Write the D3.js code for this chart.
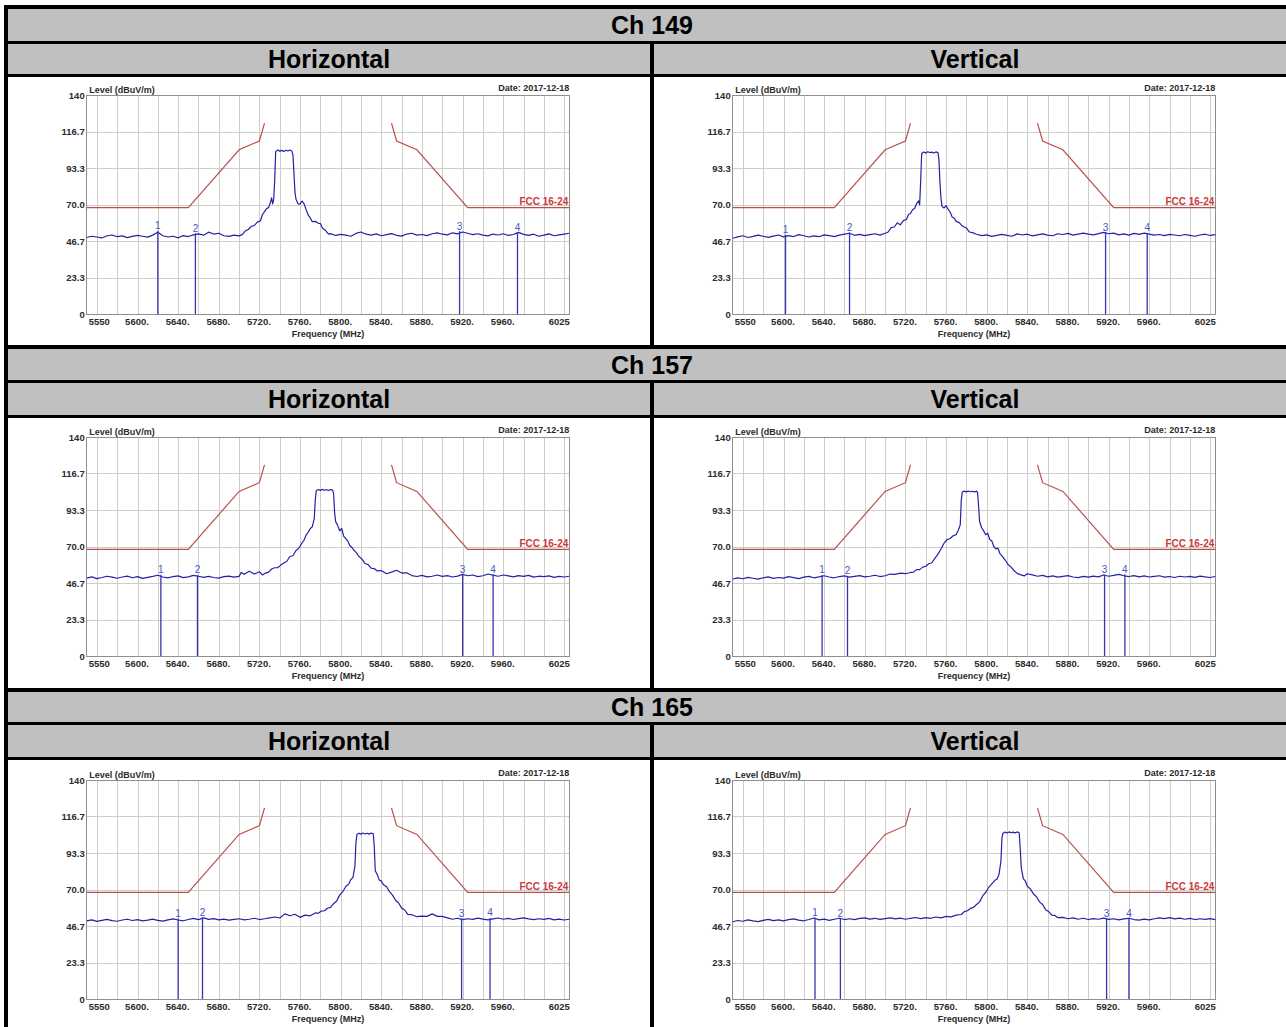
<!DOCTYPE html>
<html>
<head>
<meta charset="utf-8">
<script src="https://cdn.jsdelivr.net/npm/d3@7/dist/d3.min.js"></script>
<style>
    body { margin: 0; background: #fff; }
    svg { display: block; }
    text { font-family: "Liberation Sans", Arial, sans-serif; }
    .tick text { font-weight: bold; font-size: 9.5px; fill: #2b2b2b; }
</style>
</head>
<body>
<svg id="sheet" width="1286" height="1027"></svg>
<script>
// Table labels
const channels = ['Ch 149', 'Ch 157', 'Ch 165'];
const polarizations = ['Horizontal', 'Vertical'];
const dateLabel = 'Date: 2017-12-18';
const limitName = 'FCC 16-24';

// Axis ticks
const yTickValues = [0, 23.33, 46.67, 70, 93.33, 116.67, 140];
const yTickLabels = ['0', '23.3', '46.7', '70.0', '93.3', '116.7', '140'];
const xTickValues = [5550, 5600, 5640, 5680, 5720, 5760, 5800, 5840, 5880, 5920, 5960, 6025];
const xTickLabels = ['5550', '5600.', '5640.', '5680.', '5720.', '5760.', '5800.', '5840.', '5880.', '5920.', '5960.', '6025'];
const gridFreqs = [5560, 5580, 5600, 5620, 5640, 5660, 5680, 5700, 5720, 5740, 5760, 5780, 5800,
    5820, 5840, 5860, 5880, 5900, 5920, 5940, 5960, 5980, 6000, 6020];

// FCC 16-24 emission mask (dBuV/m)
const limitLowFreq = [5550, 5650, 5700, 5720, 5725];
const limitLowLevel = [68.2, 68.2, 105.2, 110.8, 122.2];
const limitHighFreq = [5850, 5855, 5875, 5925, 6025];
const limitHighLevel = [122.2, 110.8, 105.2, 68.2, 68.2];

// Measured traces [MHz, dBuV/m]
const trace149H = [[5550,49.1],[5555,49.9],[5560,49.4],[5565,48.8],[5570,50.2],[5575,50.7],[5580,49.6],[5585,50.1],[5590,49.0],[5595,49.8],
    [5600,50.5],[5605,49.9],[5610,49.3],[5615,50.6],[5620,52.4],[5625,50.2],[5630,49.4],[5635,49.9],[5640,48.9],[5645,50.3],
    [5650,49.7],[5655,50.8],[5660,51.4],[5665,50.6],[5670,52.5],[5675,51.3],[5680,51.8],[5685,50.2],[5690,49.8],[5695,50.6],
    [5700,50.1],[5703,50.9],[5706,53.2],[5709,54.2],[5712,56.2],[5715,56.8],[5718,58.9],[5721,59.8],[5723,63.8],[5725,65.6],
    [5727,67.6],[5729,68.2],[5731,71.8],[5732,74.5],[5733,70.6],[5734,73.2],[5735,85.0],[5736,104.0],[5738,105.0],[5740,104.3],
    [5742,104.8],[5744,104.1],[5746,104.9],[5748,104.4],[5750,105.0],[5752,104.2],[5753,102.0],[5754,90.0],[5755,78.0],[5756,73.5],
    [5758,70.6],[5760,70.4],[5762,72.4],[5764,70.6],[5766,66.8],[5768,63.4],[5770,61.6],[5772,59.2],[5775,59.4],[5778,58.2],
    [5780,58.0],[5782,55.2],[5785,53.6],[5788,51.2],[5790,51.6],[5795,50.4],[5800,51.1],[5805,50.6],[5810,49.9],[5815,51.7],
    [5820,52.6],[5825,51.2],[5830,50.6],[5835,51.4],[5840,50.2],[5845,50.9],[5850,51.6],[5855,50.5],[5860,50.0],[5865,51.3],
    [5870,51.8],[5875,50.6],[5880,51.0],[5885,50.3],[5890,51.5],[5895,52.0],[5900,51.2],[5905,50.8],[5910,52.1],[5915,51.4],
    [5920,52.6],[5925,51.8],[5930,50.9],[5935,51.5],[5940,50.6],[5945,50.1],[5950,51.3],[5955,50.7],[5960,51.5],[5965,50.4],
    [5970,51.0],[5975,52.4],[5980,51.1],[5985,50.5],[5990,51.2],[5995,49.9],[6000,50.6],[6005,51.4],[6010,50.2],[6015,50.8],
    [6020,51.3],[6025,51.8]];

const trace149V = [[5550,48.6],[5555,49.5],[5560,50.2],[5565,49.1],[5570,49.8],[5575,50.6],[5580,49.9],[5585,49.2],[5590,50.0],[5595,50.7],
    [5600,49.5],[5605,50.3],[5610,49.7],[5615,50.9],[5620,50.2],[5625,49.4],[5630,50.1],[5635,49.6],[5640,50.8],[5645,50.3],
    [5650,49.7],[5655,50.6],[5660,51.2],[5665,51.8],[5670,50.5],[5675,51.1],[5680,50.3],[5685,50.9],[5690,51.5],[5695,50.6],
    [5700,51.8],[5703,52.6],[5706,55.4],[5709,55.8],[5712,58.4],[5715,57.2],[5718,59.9],[5721,60.6],[5723,63.8],[5725,64.4],
    [5727,66.8],[5729,67.6],[5731,70.8],[5733,72.5],[5734,70.0],[5735,85.0],[5736,102.8],[5738,103.8],[5740,103.2],[5742,103.9],
    [5744,103.4],[5746,103.7],[5748,103.1],[5750,103.8],[5752,103.4],[5753,99.0],[5754,84.0],[5755,74.0],[5756,69.0],[5758,68.0],
    [5760,69.4],[5762,67.2],[5764,65.4],[5766,62.2],[5768,61.4],[5770,59.4],[5773,58.6],[5776,56.4],[5780,55.2],[5783,52.6],
    [5786,52.2],[5790,51.2],[5795,50.3],[5800,50.8],[5805,49.8],[5810,50.5],[5815,51.1],[5820,50.4],[5825,49.9],[5830,51.4],
    [5835,50.7],[5840,51.2],[5845,50.1],[5850,50.8],[5855,51.4],[5860,50.6],[5865,50.2],[5870,51.5],[5875,51.0],[5880,51.7],
    [5885,50.6],[5890,51.3],[5895,51.9],[5900,51.2],[5905,50.8],[5910,51.6],[5915,52.4],[5920,51.5],[5925,51.9],[5930,50.8],
    [5935,51.4],[5940,50.6],[5945,51.7],[5950,51.1],[5955,51.9],[5960,51.2],[5965,50.6],[5970,51.0],[5975,50.3],[5980,51.1],
    [5985,50.7],[5990,50.2],[5995,51.0],[6000,50.5],[6005,49.9],[6010,50.7],[6015,51.2],[6020,50.4],[6025,50.9]];

const trace157H = [[5550,49.8],[5555,50.6],[5560,49.5],[5565,50.2],[5570,51.0],[5575,50.4],[5580,49.7],[5585,50.5],[5590,51.1],[5595,50.0],
    [5600,50.7],[5605,49.6],[5610,50.3],[5615,50.9],[5620,51.6],[5625,50.5],[5630,49.9],[5635,50.8],[5640,51.2],[5645,50.1],
    [5650,50.6],[5655,51.5],[5660,51.0],[5665,50.3],[5670,50.9],[5675,50.2],[5680,49.8],[5685,50.7],[5690,51.1],[5695,50.4],
    [5700,50.9],[5702,53.4],[5705,52.2],[5710,54.2],[5715,52.4],[5720,53.9],[5723,51.8],[5726,53.0],[5729,53.6],[5732,55.6],
    [5735,56.4],[5738,56.4],[5741,58.1],[5744,59.4],[5747,60.6],[5750,63.6],[5753,64.1],[5756,67.4],[5759,69.1],[5762,72.4],
    [5764,74.1],[5766,77.4],[5768,79.1],[5770,81.4],[5772,82.6],[5774,88.0],[5775,100.0],[5776,105.8],[5778,106.4],[5780,105.9],
    [5782,106.5],[5784,106.0],[5786,106.3],[5788,105.8],[5790,106.4],[5792,106.0],[5793,104.0],[5794,92.0],[5795,86.0],[5797,83.5],
    [5799,80.0],[5801,81.5],[5803,76.5],[5805,75.0],[5807,73.4],[5809,70.6],[5811,69.4],[5813,67.6],[5815,66.4],[5818,63.6],
    [5821,61.9],[5824,59.1],[5827,58.4],[5830,56.1],[5833,55.9],[5836,54.4],[5840,54.6],[5845,52.6],[5850,53.6],[5855,54.8],
    [5860,53.0],[5865,53.2],[5870,51.4],[5875,50.8],[5880,51.5],[5885,50.6],[5890,51.0],[5895,51.8],[5900,50.9],[5905,51.4],
    [5910,50.5],[5915,51.1],[5920,52.2],[5925,51.3],[5930,51.8],[5935,50.7],[5940,51.3],[5945,52.4],[5950,51.6],[5955,51.0],
    [5960,51.8],[5965,51.2],[5970,50.6],[5975,51.4],[5980,50.9],[5985,51.5],[5990,50.4],[5995,51.0],[6000,50.7],[6005,51.2],
    [6010,50.3],[6015,50.9],[6020,50.5],[6025,51.0]];

const trace157V = [[5550,49.2],[5555,49.9],[5560,49.4],[5565,50.3],[5570,49.7],[5575,49.1],[5580,50.0],[5585,50.6],[5590,49.6],[5595,50.2],
    [5600,49.8],[5605,50.7],[5610,50.1],[5615,49.5],[5620,50.4],[5625,50.9],[5630,50.0],[5635,50.6],[5640,51.3],[5645,50.5],
    [5650,50.0],[5655,50.8],[5660,51.2],[5665,50.4],[5670,50.9],[5675,51.4],[5680,50.6],[5685,51.0],[5690,51.6],[5695,50.8],
    [5700,51.3],[5705,52.4],[5710,52.2],[5715,53.0],[5720,52.6],[5725,53.4],[5728,53.6],[5731,55.2],[5734,55.2],[5737,56.8],
    [5740,57.4],[5743,59.0],[5746,59.6],[5749,62.4],[5752,65.1],[5755,68.4],[5758,72.1],[5761,74.4],[5764,75.1],[5767,76.9],
    [5770,77.6],[5772,80.4],[5774,84.0],[5775,100.0],[5776,104.8],[5778,105.4],[5780,104.9],[5782,105.5],[5784,105.0],[5786,105.3],
    [5788,104.8],[5790,105.4],[5791,104.5],[5792,96.0],[5793,86.0],[5795,82.0],[5797,80.0],[5799,77.5],[5801,78.5],[5803,74.5],
    [5805,73.5],[5807,70.0],[5809,68.5],[5811,69.0],[5813,65.5],[5815,64.0],[5818,61.5],[5821,58.5],[5824,56.8],[5827,54.5],
    [5830,52.8],[5833,52.0],[5837,51.2],[5840,52.6],[5845,51.9],[5850,51.0],[5855,51.5],[5860,50.6],[5865,51.2],[5870,50.4],
    [5875,50.9],[5880,51.4],[5885,50.5],[5890,50.1],[5895,50.9],[5900,50.4],[5905,51.1],[5910,50.6],[5915,51.8],[5920,51.0],
    [5925,51.5],[5930,52.2],[5935,51.3],[5940,50.8],[5945,51.4],[5950,50.6],[5955,51.2],[5960,50.5],[5965,50.9],[5970,51.3],
    [5975,50.4],[5980,50.8],[5985,50.2],[5990,51.0],[5995,50.5],[6000,50.9],[6005,50.3],[6010,51.1],[6015,50.6],[6020,50.2],
    [6025,50.8]];

const trace165H = [[5550,49.9],[5555,50.6],[5560,49.6],[5565,50.3],[5570,50.9],[5575,50.1],[5580,49.7],[5585,50.5],[5590,51.0],[5595,50.2],
    [5600,50.7],[5605,49.9],[5610,50.4],[5615,51.1],[5620,50.3],[5625,49.8],[5630,50.6],[5635,51.2],[5640,50.5],[5645,50.0],
    [5650,50.8],[5655,51.5],[5660,50.7],[5665,51.9],[5670,50.9],[5675,51.4],[5680,50.6],[5685,51.1],[5690,50.4],[5695,50.9],
    [5700,51.3],[5705,50.6],[5710,51.0],[5715,51.6],[5720,50.8],[5725,51.3],[5730,51.9],[5735,52.4],[5740,51.8],[5745,54.4],
    [5750,53.2],[5755,54.2],[5760,52.2],[5765,53.6],[5770,53.2],[5775,55.0],[5778,54.8],[5781,56.2],[5784,56.4],[5787,58.0],
    [5790,58.6],[5793,60.9],[5796,62.6],[5799,66.4],[5802,68.6],[5805,71.9],[5808,73.6],[5810,76.4],[5812,77.6],[5814,85.0],
    [5815,100.0],[5816,105.2],[5818,106.0],[5820,105.4],[5822,106.1],[5824,105.5],[5826,106.0],[5828,105.4],[5830,106.1],[5832,105.6],
    [5833,98.0],[5834,82.0],[5836,79.5],[5838,76.0],[5840,75.4],[5842,73.1],[5845,71.9],[5848,68.6],[5851,66.4],[5854,63.1],
    [5857,61.4],[5860,58.1],[5863,56.9],[5866,54.1],[5870,53.9],[5875,52.6],[5880,53.0],[5885,52.8],[5890,54.4],[5895,52.8],
    [5900,52.8],[5905,51.9],[5910,51.0],[5915,51.6],[5920,50.7],[5925,51.3],[5930,50.9],[5935,51.7],[5940,51.1],[5945,50.6],
    [5950,51.2],[5955,51.8],[5960,51.0],[5965,51.5],[5970,50.8],[5975,51.4],[5980,51.9],[5985,51.2],[5990,50.7],[5995,51.3],
    [6000,50.9],[6005,51.5],[6010,50.6],[6015,51.1],[6020,50.5],[6025,51.0]];

const trace165V = [[5550,49.4],[5555,50.2],[5560,49.7],[5565,50.6],[5570,50.0],[5575,49.5],[5580,50.3],[5585,50.9],[5590,50.1],[5595,50.6],
    [5600,49.9],[5605,50.7],[5610,51.2],[5615,50.4],[5620,50.0],[5625,50.8],[5630,51.8],[5635,50.6],[5640,51.1],[5645,50.3],
    [5650,51.0],[5655,51.6],[5660,50.8],[5665,51.3],[5670,50.7],[5675,51.5],[5680,51.9],[5685,51.1],[5690,51.6],[5695,50.9],
    [5700,51.4],[5705,51.9],[5710,51.2],[5715,51.7],[5720,51.0],[5725,51.6],[5730,52.1],[5735,51.4],[5740,52.0],[5745,51.6],
    [5750,52.4],[5755,51.9],[5760,52.8],[5765,52.5],[5770,53.6],[5775,54.0],[5778,55.9],[5781,56.4],[5784,57.9],[5787,58.6],
    [5790,60.4],[5793,62.1],[5796,65.9],[5799,68.1],[5802,71.4],[5805,73.6],[5808,75.9],[5810,76.6],[5812,79.4],[5814,88.0],
    [5815,103.0],[5816,106.0],[5818,106.7],[5820,106.1],[5822,106.8],[5824,106.3],[5826,106.7],[5828,106.2],[5830,106.8],[5832,106.3],
    [5833,96.0],[5834,84.0],[5836,77.0],[5838,75.4],[5840,72.1],[5843,70.4],[5846,67.1],[5849,65.4],[5852,62.1],[5855,60.4],
    [5858,57.1],[5861,55.9],[5864,53.6],[5867,53.4],[5870,52.0],[5875,52.2],[5880,51.3],[5885,51.9],[5890,51.0],[5895,51.6],
    [5900,50.8],[5905,51.4],[5910,51.0],[5915,51.7],[5920,50.9],[5925,51.3],[5930,50.6],[5935,51.2],[5940,51.6],[5945,50.8],
    [5950,50.4],[5955,51.1],[5960,50.6],[5965,51.3],[5970,51.9],[5975,51.4],[5980,52.0],[5985,51.2],[5990,51.7],[5995,51.0],
    [6000,51.5],[6005,50.8],[6010,51.3],[6015,50.9],[6020,51.4],[6025,50.7]];

// Markers [MHz, dBuV/m]
const markers149H = [[5620, 53.4], [5657, 51.8], [5917, 53.2], [5974, 52.6]];
const markers149V = [[5602, 51.0], [5665, 52.4], [5917, 52.6], [5958, 52.0]];
const markers157H = [[5623, 52.0], [5659, 51.8], [5920, 52.2], [5950, 52.4]];
const markers157V = [[5638, 51.8], [5663, 51.2], [5916, 52.0], [5936, 52.2]];
const markers165H = [[5640, 51.6], [5664, 52.2], [5919, 51.6], [5947, 51.8]];
const markers165V = [[5631, 52.0], [5656, 51.4], [5918, 51.6], [5940, 51.6]];

const traces = [[trace149H, trace149V], [trace157H, trace157V], [trace165H, trace165V]];
const markerSets = [[markers149H, markers149V], [markers157H, markers157V], [markers165H, markers165V]];

// Table geometry (pixels)
const rows = [
    { headY: 9, headH: 32, subY: 44, subH: 30, chartY: 77, chartH: 268, plotTop: 95.3 },
    { headY: 349, headH: 31, subY: 383, subH: 32, chartY: 418, chartH: 270, plotTop: 437 },
    { headY: 692, headH: 30, subY: 725, subH: 32, chartY: 760, chartH: 280, plotTop: 780 }
];
const colX = [8, 654];
const colW = 642;
const plotOffsetX = 78.7;
const plotW = 482.6;
const plotH = 219;

const svg = d3.select('#sheet');

// Black table frame, cells painted over it
svg.append('rect').attr('x', 4).attr('y', 5).attr('width', 1282).attr('height', 1022).attr('fill', '#000');

function drawChart(x0, plotTop, trace, markers) {
    const left = x0 + plotOffsetX, right = left + plotW;
    const top = plotTop, bottom = top + plotH;
    const x = d3.scaleLinear().domain([5550, 6025]).range([left, right]);
    const y = d3.scaleLinear().domain([0, 140]).range([bottom, top]);
    const g = svg.append('g');

    // Grid
    g.append('g')
        .attr('transform', `translate(0,${bottom})`)
        .call(d3.axisBottom(x).tickValues(gridFreqs).tickSize(-plotH).tickFormat(''))
        .call(a => a.select('.domain').remove())
        .selectAll('line').attr('stroke', '#cdcdcd').attr('shape-rendering', 'crispEdges');
    g.append('g')
        .attr('transform', `translate(${left},0)`)
        .call(d3.axisLeft(y).tickValues(yTickValues.slice(1, -1)).tickSize(-plotW).tickFormat(''))
        .call(a => a.select('.domain').remove())
        .selectAll('line').attr('stroke', '#cdcdcd').attr('shape-rendering', 'crispEdges');

    g.append('rect')
        .attr('x', left).attr('y', top).attr('width', plotW).attr('height', plotH)
        .attr('fill', 'none').attr('stroke', '#8f8f8f').attr('shape-rendering', 'crispEdges');

    // Axis labels
    g.append('g')
        .attr('transform', `translate(${left},0)`)
        .call(d3.axisLeft(y).tickValues(yTickValues).tickSize(0).tickPadding(2)
            .tickFormat((d, i) => yTickLabels[i]))
        .call(a => a.select('.domain').remove());

    const xa = g.append('g')
        .attr('transform', `translate(0,${bottom})`)
        .call(d3.axisBottom(x).tickValues(xTickValues).tickSize(0).tickPadding(4.3)
            .tickFormat((d, i) => xTickLabels[i]))
        .call(a => a.select('.domain').remove());
    xa.selectAll('.tick text')
        .attr('text-anchor', (d, i) => i === 0 ? 'start' : (i === xTickValues.length - 1 ? 'end' : 'middle'))
        .attr('x', (d, i) => i === 0 ? 1.5 : (i === xTickValues.length - 1 ? 0 : -1));

    g.append('text').attr('x', left + 2.5).attr('y', top - 2)
        .attr('font-size', 9).attr('font-weight', 'bold').attr('fill', '#2b2b2b')
        .text('Level (dBuV/m)');
    g.append('text').attr('x', right).attr('y', top - 4.3).attr('text-anchor', 'end')
        .attr('font-size', 9).attr('font-weight', 'bold').attr('fill', '#2b2b2b')
        .text(dateLabel);
    g.append('text').attr('x', (left + right) / 2).attr('y', bottom + 22.5).attr('text-anchor', 'middle')
        .attr('font-size', 9).attr('font-weight', 'bold').attr('fill', '#2b2b2b')
        .text('Frequency (MHz)');

    // Limit mask
    const line = d3.line().x(d => x(d[0])).y(d => y(d[1]));
    [d3.zip(limitLowFreq, limitLowLevel), d3.zip(limitHighFreq, limitHighLevel)].forEach(seg => {
        g.append('path').attr('d', line(seg))
            .attr('fill', 'none').attr('stroke', '#b8504a').attr('stroke-width', 1.2);
    });
    g.append('text').attr('x', x(6025) - 1).attr('y', y(68.2) - 2.6).attr('text-anchor', 'end')
        .attr('font-size', 10).attr('font-weight', 'bold').attr('fill', '#cc3a3a')
        .text(limitName);

    // Trace
    g.append('path').attr('d', line(trace))
        .attr('fill', 'none').attr('stroke', '#2222a4').attr('stroke-width', 1.2)
        .attr('stroke-linejoin', 'round');

    // Markers
    const mk = g.selectAll('.marker').data(markers).enter().append('g').attr('class', 'marker');
    mk.append('line')
        .attr('x1', d => x(d[0])).attr('x2', d => x(d[0]))
        .attr('y1', y(0)).attr('y2', d => y(d[1]))
        .attr('stroke', '#3535b4').attr('stroke-width', 1.3);
    mk.append('text')
        .attr('x', d => x(d[0])).attr('y', d => y(d[1]) - 1.5)
        .attr('text-anchor', 'middle').attr('font-size', 10).attr('fill', '#4757c0')
        .text((d, i) => i + 1);
}

rows.forEach((r, s) => {
    // Channel header
    svg.append('rect').attr('x', 8).attr('y', r.headY).attr('width', 1286 - 8).attr('height', r.headH).attr('fill', '#c0c0c0');
    svg.append('text').attr('x', 652).attr('y', r.headY + r.headH / 2 + 9)
        .attr('text-anchor', 'middle').attr('font-size', 25).attr('font-weight', 'bold').attr('fill', '#000')
        .text(channels[s]);

    colX.forEach((cx, c) => {
        svg.append('rect').attr('x', cx).attr('y', r.subY).attr('width', colW).attr('height', r.subH).attr('fill', '#c0c0c0');
        svg.append('text').attr('x', cx + colW / 2).attr('y', r.subY + r.subH / 2 + 9)
            .attr('text-anchor', 'middle').attr('font-size', 25).attr('font-weight', 'bold').attr('fill', '#000')
            .text(polarizations[c]);
        svg.append('rect').attr('x', cx).attr('y', r.chartY).attr('width', colW).attr('height', r.chartH).attr('fill', '#fff');
        drawChart(cx, r.plotTop, traces[s][c], markerSets[s][c]);
    });
});
</script>
</body>
</html>
